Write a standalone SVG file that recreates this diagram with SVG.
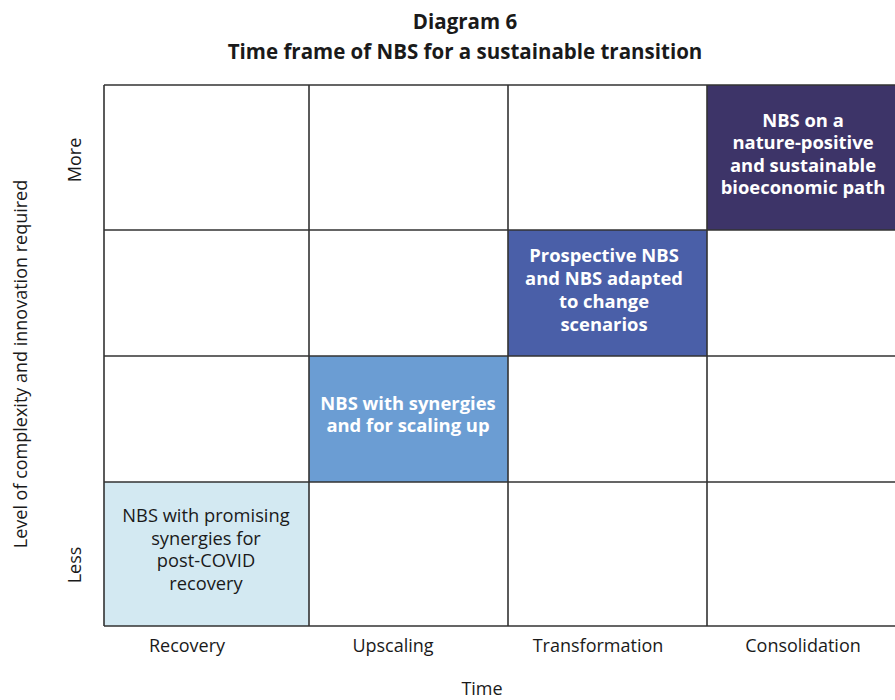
<svg xmlns="http://www.w3.org/2000/svg" width="895" height="700" viewBox="0 0 895 700">
<style>
text{font-family:"Open Sans","Noto Sans","DejaVu Sans",sans-serif;fill:#1a1a1a;text-anchor:middle}
.t{font-size:20.5px;font-weight:bold}
.ax{font-size:18px}
.cb{font-size:18.4px;font-weight:bold;fill:#ffffff}
.cn{font-size:18.3px;fill:#1a1a1a}
.g{stroke:#333333;stroke-width:1.6;fill:none}
</style>
<rect width="895" height="700" fill="#ffffff"/>
<text class="t" x="465" y="29">Diagram 6</text>
<text class="t" x="465" y="59">Time frame of NBS for a sustainable transition</text>
<g id="cell-consolidation">
<rect x="707" y="85" width="188" height="145" fill="#3d3468"/>
<text class="cb"><tspan x="803" y="127">NBS on a</tspan><tspan x="803" y="149">nature-positive</tspan><tspan x="803" y="172">and sustainable</tspan><tspan x="803" y="194">bioeconomic path</tspan></text>
</g>
<g id="cell-transformation">
<rect x="508" y="230" width="199" height="126" fill="#4a5fa8"/>
<text class="cb"><tspan x="604" y="262">Prospective NBS</tspan><tspan x="604" y="285">and NBS adapted</tspan><tspan x="604" y="308">to change</tspan><tspan x="604" y="331">scenarios</tspan></text>
</g>
<g id="cell-upscaling">
<rect x="309" y="356" width="199" height="126" fill="#6b9dd3"/>
<text class="cb"><tspan x="408" y="410">NBS with synergies</tspan><tspan x="408" y="432">and for scaling up</tspan></text>
</g>
<g id="cell-recovery">
<rect x="104" y="482" width="205" height="144" fill="#d3e9f2"/>
<text class="cn"><tspan x="206" y="522">NBS with promising</tspan><tspan x="206" y="545">synergies for</tspan><tspan x="206" y="567">post-COVID</tspan><tspan x="206" y="590">recovery</tspan></text>
</g>
<g id="grid">
<path class="g" d="M104 85H895M104 230H895M104 356H895M104 482H895M104 626H895M104 85V626M309 85V626M508 85V626M707 85V626"/>
</g>
<g id="labels">
<text class="ax" x="187" y="652">Recovery</text>
<text class="ax" x="393" y="652">Upscaling</text>
<text class="ax" x="598" y="652">Transformation</text>
<text class="ax" x="803" y="652">Consolidation</text>
<text class="ax" x="482" y="695">Time</text>
<text class="ax" transform="translate(27,364) rotate(-90)">Level of complexity and innovation required</text>
<text class="ax" transform="translate(81,160) rotate(-90)">More</text>
<text class="ax" transform="translate(81,565) rotate(-90)">Less</text>
</g>
</svg>
